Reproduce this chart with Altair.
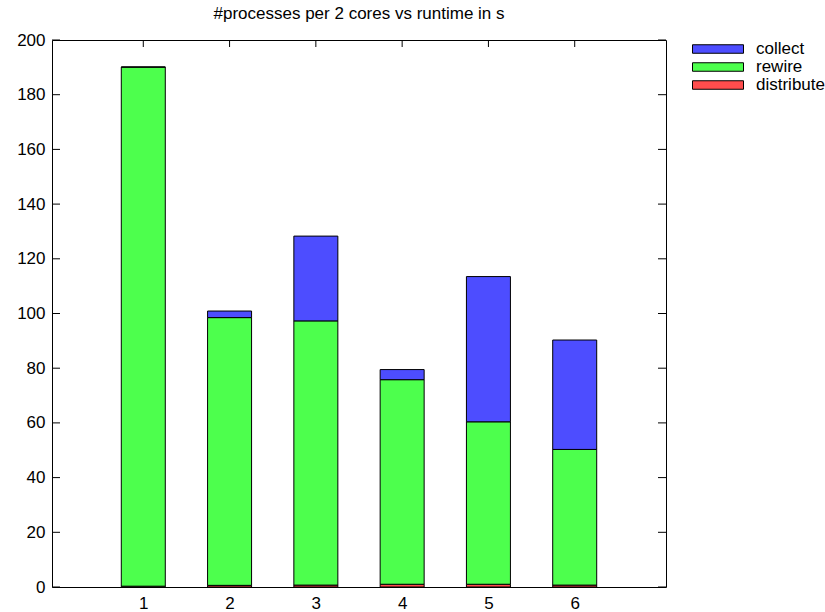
import altair as alt
import pandas as pd

# Runtime (s) per phase for each processes-per-2-cores setting
runs = [1, 2, 3, 4, 5, 6]
distribute = [0.3, 0.6, 0.7, 1.0, 1.0, 0.7]
rewire = [189.8, 97.9, 96.6, 74.8, 59.4, 49.6]
collect = [0.0, 2.4, 31.0, 3.7, 53.1, 40.0]

phases = ["collect", "rewire", "distribute"]
phase_colors = ["#4d4dff", "#4dff4d", "#ff4d4d"]
y_ticks = list(range(0, 201, 20))

rows = []
for i, r in enumerate(runs):
    for k, (name, vals) in enumerate(
        [("distribute", distribute), ("rewire", rewire), ("collect", collect)]
    ):
        rows.append({"run": r, "phase": name, "seconds": vals[i], "stack_order": k})
df = pd.DataFrame(rows)

W, H = 614, 547
FONT = "Liberation Sans"
TICK = 8

x_scale = alt.Scale(domain=[0, 7], nice=False, zero=False)
y_scale = alt.Scale(domain=[0, 200], nice=False)

x_axis = alt.Axis(
    values=runs, title=None, ticks=False, domain=False, grid=False,
    labelFontSize=17, labelFont=FONT, labelColor="black",
    labelPadding=8, format="d",
)
y_axis = alt.Axis(
    values=y_ticks, title=None, ticks=False, domain=False, grid=False,
    labelFontSize=17, labelFont=FONT, labelColor="black",
    labelPadding=7, format="d",
)

ytick_df = pd.DataFrame({"v": y_ticks})
xtick_df = pd.DataFrame({"v": runs})

# inward ticks on all four sides of the frame
left_ticks = alt.Chart(ytick_df).mark_rule(color="black", strokeWidth=1).encode(
    y=alt.Y("v:Q", scale=y_scale, axis=y_axis), x=alt.value(0), x2=alt.value(TICK)
)
right_ticks = alt.Chart(ytick_df).mark_rule(color="black", strokeWidth=1).encode(
    y=alt.Y("v:Q", scale=y_scale, axis=y_axis), x=alt.value(W - TICK), x2=alt.value(W)
)
top_ticks = alt.Chart(xtick_df).mark_rule(color="black", strokeWidth=1).encode(
    x=alt.X("v:Q", scale=x_scale, axis=x_axis), y=alt.value(0), y2=alt.value(TICK - 1)
)
bottom_ticks = alt.Chart(xtick_df).mark_rule(color="black", strokeWidth=1).encode(
    x=alt.X("v:Q", scale=x_scale, axis=x_axis), y=alt.value(H - TICK + 1), y2=alt.value(H)
)

bars = alt.Chart(df).mark_bar(size=44, stroke="black", strokeWidth=1).encode(
    x=alt.X("run:Q", scale=x_scale, axis=x_axis),
    y=alt.Y("seconds:Q", stack="zero", scale=y_scale, axis=y_axis),
    color=alt.Color(
        "phase:N",
        scale=alt.Scale(domain=phases, range=phase_colors),
        legend=alt.Legend(
            title=None,
            orient="none",
            legendX=657,
            legendY=0,
            symbolType="M-3,-0.5H3V0.5H-3Z",
            symbolSize=289,
            symbolStrokeColor="black",
            symbolStrokeWidth=1,
            symbolOpacity=1,
            labelFontSize=17,
            labelFont=FONT,
            labelColor="black",
            labelOffset=29,
            rowPadding=1,
        ),
    ),
    order=alt.Order("stack_order:Q", sort="ascending"),
)

chart = (
    alt.layer(left_ticks, right_ticks, top_ticks, bottom_ticks, bars)
    .properties(
        width=W,
        height=H,
        autosize=alt.AutoSizeParams(type="none"),
        padding={"left": 52, "top": 40, "right": 159, "bottom": 25},
        title=alt.TitleParams(
            "#processes per 2 cores vs runtime in s",
            font=FONT,
            fontSize=17,
            fontWeight="normal",
            color="black",
            anchor="middle",
            offset=8,
        ),
        background="white",
    )
    .configure_view(stroke="black", strokeWidth=1)
)

chart.save("out.html", embed_options={"renderer": "svg", "actions": False})
